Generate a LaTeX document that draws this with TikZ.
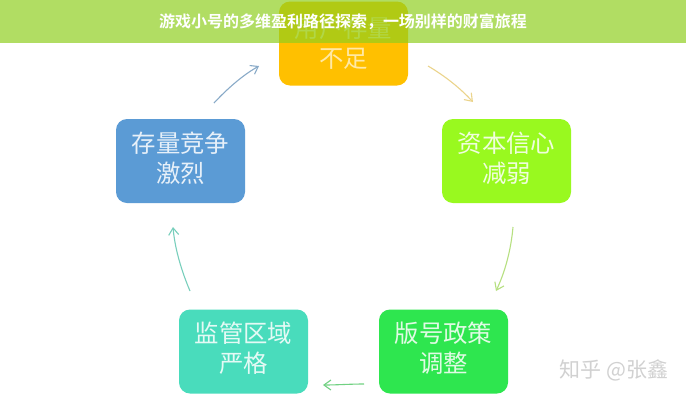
\documentclass[tikz,border=0pt]{standalone}
\usepackage{fontspec}
\setmainfont{Noto Sans CJK SC}
\newfontfamily\boldcjk[BoldFont={Noto Sans CJK SC Bold}]{Noto Sans CJK SC}
\usetikzlibrary{arrows.meta}
\definecolor{cOrange}{HTML}{FFC000}
\definecolor{cLime}{HTML}{99F91F}
\definecolor{cGreen}{HTML}{2EE64F}
\definecolor{cTeal}{HTML}{49DCBC}
\definecolor{cBlue}{HTML}{5B9BD5}
\definecolor{cBanner}{RGB}{143,207,29}
\definecolor{cSand}{HTML}{EBD48C}
\newcommand\cardtext[3][0pt]{\raisebox{#1}[\height][\depth]{\begin{tabular}{@{}c@{}}#2\\#3\end{tabular}}}
\tikzset{
  card/.style={rounded corners=11pt,minimum width=129pt,minimum height=84pt,inner sep=0pt,
    align=center,text=white,font=\fontsize{24.4}{30}\selectfont},
  flow/.style={line width=1.1pt,-{Straight Barb[length=7pt,width=10pt]}},
}
\begin{document}
\begin{tikzpicture}[x=1pt,y=-1pt]
\useasboundingbox (0,0) rectangle (686,400);
\fill[white] (0,0) rectangle (686,400);
\node[card,fill=cOrange,text=white!65!cOrange] (top) at (343.5,43.5) {\cardtext[-3pt]{用户存量}{不足}};
\node[card,fill=cLime,text=white!85!cLime] (right) at (506.5,161) {\cardtext{资本信心}{减弱}};
\node[card,fill=cGreen,text=white!85!cGreen] (br) at (443.5,351.5) {\cardtext{版号政策}{调整}};
\node[card,fill=cTeal,text=white!85!cTeal] (bl) at (243.5,351.5) {\cardtext{监管区域}{严格}};
\node[card,fill=cBlue,text=white!85!cBlue] (left) at (180.5,161) {\cardtext{存量竞争}{激烈}};
\coordinate (a1s) at (428,66); \coordinate (a1e) at (473,102);
\coordinate (a2s) at (513,227); \coordinate (a2e) at (496,291);
\coordinate (a3s) at (364,384); \coordinate (a3e) at (323,385);
\coordinate (a4s) at (190,291); \coordinate (a4e) at (173,227);
\coordinate (a5s) at (214,103); \coordinate (a5e) at (259,66);
\draw[flow,color=cSand] (a1s) .. controls (445,76) and (460,88) .. (a1e);
\draw[flow,color=cLime!80!black!55!white] (a2s) .. controls (511,250) and (505,272) .. (a2e);
\draw[flow,color=cGreen!80!black!65!white] (a3s) .. controls (350,384) and (337,385) .. (a3e);
\draw[flow,color=cTeal!85!black!70!white] (a4s) .. controls (182,272) and (175,250) .. (a4e);
\draw[flow,color=cBlue!80!black!65!white] (a5s) .. controls (228,88) and (243,75) .. (a5e);
\node[text=black!18,font=\fontsize{21}{24}\selectfont,inner sep=0pt,anchor=center] (mark) at (614,370) {知乎 @张鑫};
\fill[cBanner,opacity=.69] (0,0) rectangle (686,43);
\node[text=white,font=\boldcjk\bfseries\fontsize{16}{18}\selectfont,inner sep=0pt] (title) at (343,21.5) {游戏小号的多维盈利路径探索，一场别样的财富旅程};
\end{tikzpicture}
\end{document}
